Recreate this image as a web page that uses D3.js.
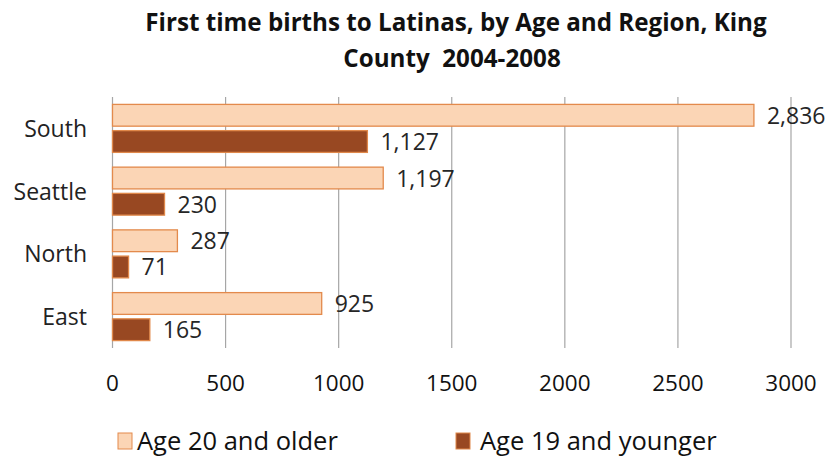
<!DOCTYPE html>
<html><head><meta charset="utf-8">
<script src="https://cdn.jsdelivr.net/npm/d3@7"></script>
<style>body{margin:0;background:#fff}</style>
</head><body>
<svg id="c" width="837" height="457"></svg>
<script>
const categories = ["South", "Seattle", "North", "East"];
const seriesNames = ["Age 20 and older", "Age 19 and younger"];
const older = [2836, 1197, 287, 925];
const younger = [1127, 230, 71, 165];
const ticks = [0, 500, 1000, 1500, 2000, 2500, 3000];
const titleLines = ["First time births to Latinas, by Age and Region, King", "County  2004-2008"];

const fills = ["#FBD5B5", "#984822"];
const strokes = ["#E38A4C", "#E0884A"];
const font = "'Open Sans', sans-serif";

const svg = d3.select("#c");
const x = d3.scaleLinear().domain([0, 3000]).range([112.5, 791]);
const y = d3.scaleBand().domain(categories).range([97, 348]).paddingInner(0.235).paddingOuter(0.118);
const sub = d3.scaleBand().domain([0, 1]).range([0, y.bandwidth()]).paddingInner(0.17);

// gridlines
svg.append("g").selectAll("line").data(ticks).join("line")
  .attr("x1", d => x(d)).attr("x2", d => x(d))
  .attr("y1", 97).attr("y2", 348)
  .attr("stroke", "#A6A6A6").attr("stroke-width", 1.2);

// tick labels
svg.append("g").selectAll("text").data(ticks).join("text")
  .attr("x", d => x(d)).attr("y", 391).attr("text-anchor", "middle")
  .attr("font-family", font).attr("font-size", 22.5).attr("fill", "#111")
  .text(d => d);

// bars
const series = [older, younger];
series.forEach((vals, si) => {
  const g = svg.append("g");
  g.selectAll("rect").data(categories).join("rect")
    .attr("x", x(0)).attr("y", (c) => y(c) + sub(si))
    .attr("width", (c, i) => x(vals[i]) - x(0))
    .attr("height", sub.bandwidth())
    .attr("fill", fills[si]).attr("stroke", strokes[si]).attr("stroke-width", 1.3);
  g.selectAll("text").data(categories).join("text")
    .attr("x", (c, i) => x(vals[i]) + 13)
    .attr("y", c => y(c) + sub(si) + sub.bandwidth() / 2 + 8.5)
    .attr("font-family", font).attr("font-size", 23).attr("fill", "#262626")
    .text((c, i) => d3.format(",")(vals[i]));
});

// category labels
svg.append("g").selectAll("text").data(categories).join("text")
  .attr("x", 87).attr("y", c => y(c) + y.bandwidth() / 2 + 8.5)
  .attr("text-anchor", "end").attr("font-family", font).attr("font-size", 23).attr("fill", "#222")
  .text(c => c);

// title
svg.append("g").selectAll("text").data(titleLines).join("text")
  .attr("x", (d, i) => i === 0 ? 456 : 452).attr("y", (d, i) => 31 + i * 36)
  .attr("text-anchor", "middle").attr("font-family", font).attr("font-weight", "bold")
  .attr("font-size", 24.2).attr("fill", "#111").style("white-space", "pre")
  .text(d => d);

// legend
const legX = [118, 456];
const legTextX = [137, 480];
seriesNames.forEach((n, i) => {
  svg.append("rect").attr("x", legX[i]).attr("y", 433).attr("width", 14).attr("height", 16)
    .attr("fill", fills[i]).attr("stroke", strokes[i]).attr("stroke-width", 1);
  svg.append("text").attr("x", legTextX[i]).attr("y", 450)
    .attr("font-family", font).attr("font-size", 25.5).attr("fill", "#111").text(n);
});
</script>
</body></html>
